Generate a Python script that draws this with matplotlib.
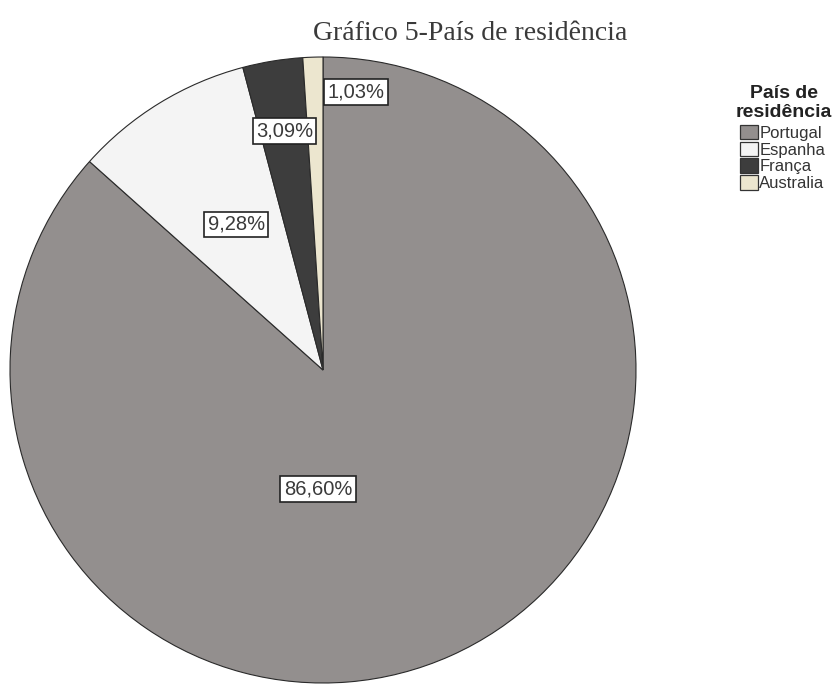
import matplotlib
matplotlib.use("Agg")
import matplotlib.pyplot as plt
from matplotlib.patches import Patch

categories = ["Portugal", "Espanha", "França", "Australia"]
values = [86.60, 9.28, 3.09, 1.03]
labels = ["86,60%", "9,28%", "3,09%", "1,03%"]
colors = ["#938f8e", "#f4f4f4", "#3d3d3d", "#ece6cf"]
label_pos = [(-0.016, -0.38), (-0.277, 0.465), (-0.123, 0.764), (0.106, 0.888)]

W, H = 835, 684
fig = plt.figure(figsize=(W / 100, H / 100), dpi=100)
fig.patch.set_facecolor("white")

cx, cy, r = 323, 370, 313
ax = fig.add_axes([(cx - r) / W, (H - cy - r) / H, 2 * r / W, 2 * r / H])
ax.pie(values, colors=colors, startangle=90, counterclock=False,
       wedgeprops=dict(edgecolor="#2a2a2a", linewidth=0.8))
ax.set_xlim(-1, 1)
ax.set_ylim(-1, 1)
ax.set_aspect("equal")
ax.axis("off")

for lab, (x, y) in zip(labels, label_pos):
    ax.text(x, y, lab, ha="center", va="center", fontsize=14.5,
            family="Liberation Sans", color="#3a3a3a",
            bbox=dict(boxstyle="square,pad=0.17", fc="white", ec="#222222", lw=1.2))

fig.text(470 / W, 1 - 33 / H, "Gráfico 5-País de residência", ha="center", va="center",
         fontsize=20, family="Liberation Serif", color="#3a3a3a")

fig.text(784 / W, 1 - 103 / H, "País de\nresidência", ha="center", va="center",
         multialignment="center", linespacing=1.1, fontsize=14, fontweight="bold",
         family="Liberation Sans", color="#222222")

handles = [Patch(facecolor=c, edgecolor="#333333", linewidth=0.9) for c in colors]
leg = fig.legend(handles, categories, loc="upper left",
                 bbox_to_anchor=(740 / W, 1 - 125 / H), frameon=False,
                 handlelength=1.05, handleheight=0.95,
                 handletextpad=0.1, labelspacing=0.05, borderpad=0, borderaxespad=0,
                 prop={"family": "Liberation Sans", "size": 12})
for t in leg.get_texts():
    t.set_color("#333333")

fig.savefig("out.png", dpi=100, facecolor="white")
